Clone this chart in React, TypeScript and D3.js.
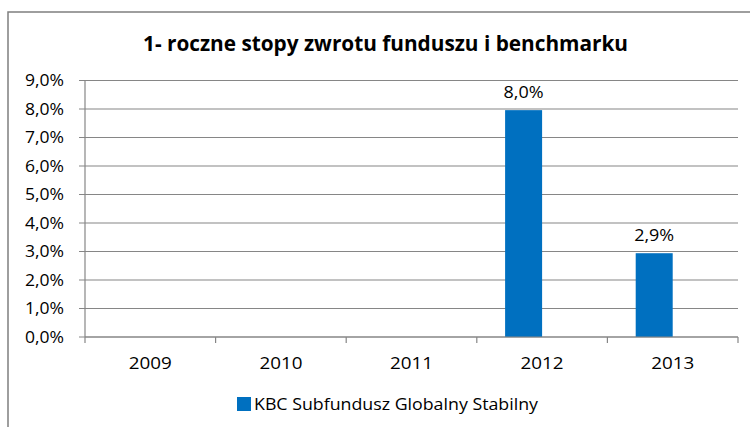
import React from "react";
import * as d3 from "d3";

const categories = ["2009", "2010", "2011", "2012", "2013"];
const seriesNames = ["KBC Subfundusz Globalny Stabilny", "Benchmark"];
const fundValues: (number | null)[] = [null, null, null, 7.96, 2.94];
const benchmarkValues: (number | null)[] = [null, null, null, null, null];
const yTicks = [0, 1, 2, 3, 4, 5, 6, 7, 8, 9];
const titleText = "1- roczne stopy zwrotu funduszu i benchmarku";

const W = 750;
const H = 427;
const M = { left: 85, right: 738, top: 80.5, bottom: 337 };
const FONT = "'Open Sans', 'Noto Sans', sans-serif";
const BAR = "#0070C0";
const GRID = "#868686";

const fmt = (v: number) => v.toFixed(1).replace(".", ",") + "%";

export default function App() {
  const x0 = d3.scaleBand<string>().domain(categories).range([M.left, M.right]).padding(0);
  const x1 = d3
    .scaleBand<string>()
    .domain(seriesNames)
    .range([0, x0.bandwidth()])
    .paddingInner(0)
    .paddingOuter(0.765);
  const y = d3.scaleLinear().domain([0, 9]).range([M.bottom, M.top]);

  const series = [fundValues, benchmarkValues];
  const boundaries = categories.map((c) => x0(c)!).concat([M.right]);

  return (
    <div style={{ position: "absolute", left: 0, top: 0 }}>
      <svg width={W} height={H} style={{ display: "block", background: "#fff" }}>
        <rect x={8} y={12} width={W + 20} height={H + 20} fill="#fff" stroke="#7f7f7f" strokeWidth={1.5} />
        <text
          x={385.5}
          y={50.5}
          textAnchor="middle"
          fontFamily={FONT}
          fontWeight="bold"
          fontSize={21.5}
          fill="#000"
          textLength={485}
          lengthAdjust="spacingAndGlyphs"
        >
          {titleText}
        </text>
        {yTicks.map((t) => (
          <g key={t}>
            <line x1={M.left - 6} x2={M.right} y1={y(t)} y2={y(t)} stroke={GRID} strokeWidth={1.2} />
            <text
              x={64}
              y={y(t) + 5.5}
              textAnchor="end"
              fontFamily={FONT}
              fontSize={16}
              fill="#000"
              textLength={39}
              lengthAdjust="spacingAndGlyphs"
            >
              {fmt(t)}
            </text>
          </g>
        ))}
        <line x1={M.left} x2={M.left} y1={M.top} y2={M.bottom} stroke={GRID} strokeWidth={1.2} />
        {boundaries.map((b, i) => (
          <line key={i} x1={b} x2={b} y1={M.bottom} y2={M.bottom + 6} stroke={GRID} strokeWidth={1.2} />
        ))}
        {series.map((vals, si) =>
          vals.map((v, ci) =>
            v == null ? null : (
              <g key={`${si}-${ci}`}>
                <rect
                  x={x0(categories[ci])! + x1(seriesNames[si])!}
                  y={y(v)}
                  width={x1.bandwidth()}
                  height={y(0) - y(v)}
                  fill={BAR}
                />
                <text
                  x={x0(categories[ci])! + x1(seriesNames[si])! + x1.bandwidth() / 2}
                  y={y(v) - 12.5}
                  textAnchor="middle"
                  fontFamily={FONT}
                  fontSize={16}
                  fill="#000"
                  textLength={40}
                  lengthAdjust="spacingAndGlyphs"
                >
                  {fmt(v)}
                </text>
              </g>
            )
          )
        )}
        {categories.map((c) => (
          <text
            key={c}
            x={x0(c)! + x0.bandwidth() / 2}
            y={369}
            textAnchor="middle"
            fontFamily={FONT}
            fontSize={16}
            fill="#000"
            textLength={43}
            lengthAdjust="spacingAndGlyphs"
          >
            {c}
          </text>
        ))}
        <line x1={M.left} x2={M.right} y1={M.bottom} y2={M.bottom} stroke={GRID} strokeWidth={1.2} />
        <rect x={237} y={397} width={14} height={14} fill={BAR} />
        <text
          x={254}
          y={409.5}
          fontFamily={FONT}
          fontSize={16.5}
          fill="#000"
          textLength={284}
          lengthAdjust="spacingAndGlyphs"
        >
          {seriesNames[0]}
        </text>
      </svg>
    </div>
  );
}
